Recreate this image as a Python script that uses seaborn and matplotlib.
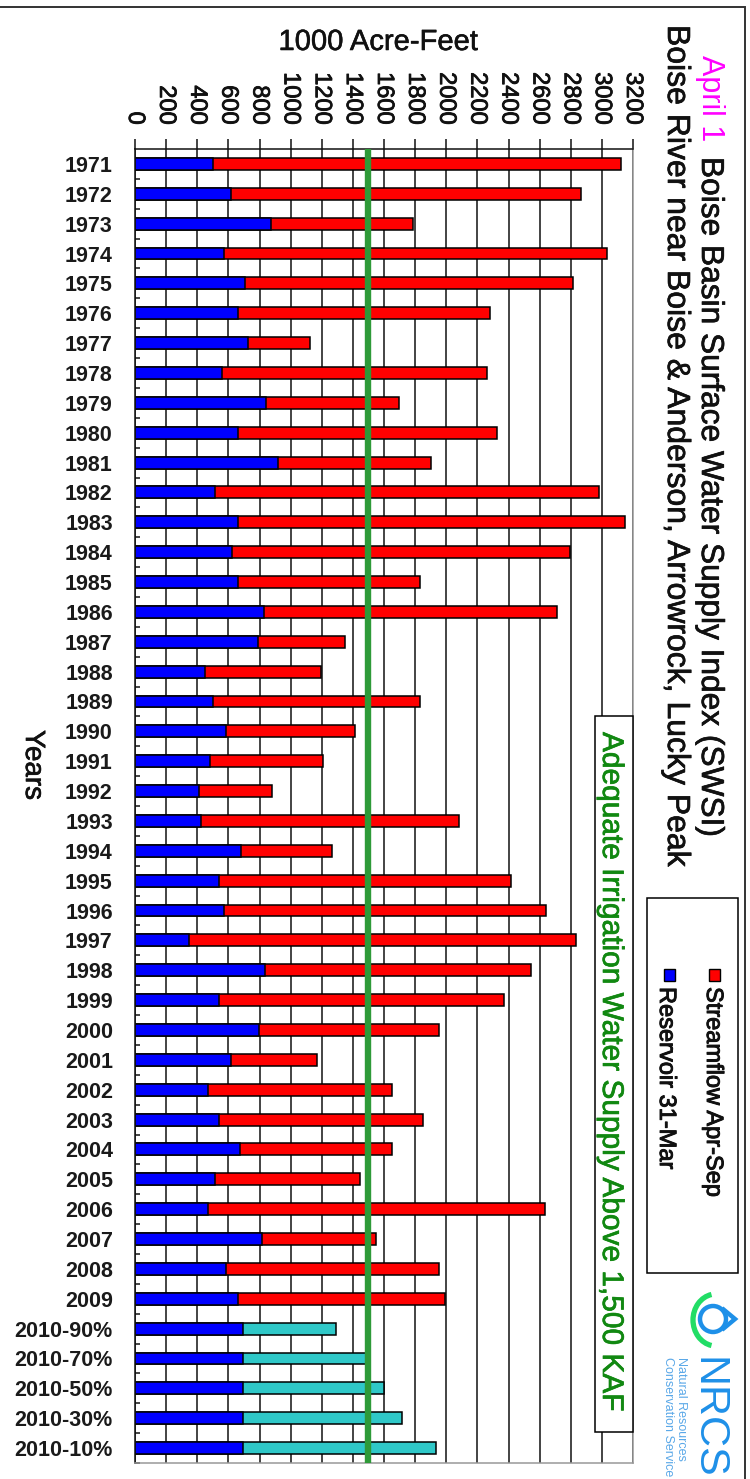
import matplotlib
matplotlib.use("Agg")
import matplotlib.pyplot as plt
import matplotlib.patheffects as pe
from matplotlib.patches import Rectangle, Arc, Polygon, Circle
from matplotlib.ticker import FixedLocator
import pandas as pd
import seaborn as sns

years = [str(y) for y in range(1971, 2010)]
forecast = ["2010-90%", "2010-70%", "2010-50%", "2010-30%", "2010-10%"]
labels = years + forecast
reservoir = [501, 617, 874, 572, 707, 662, 726, 559, 842, 662, 919, 514, 662, 623, 662, 829,
             790, 450, 501, 585, 482, 411, 424, 681, 540, 572, 347, 835, 540, 797, 617, 469,
             540, 675, 514, 469, 816, 585, 662, 694, 694, 694, 694, 694]
total = [3123, 2866, 1787, 3033, 2815, 2281, 1125, 2262, 1697, 2326, 1902, 2982, 3149, 2796,
         1832, 2712, 1350, 1195, 1832, 1414, 1208, 880, 2082, 1266, 2416, 2641, 2834, 2545,
         2371, 1954, 1170, 1652, 1851, 1652, 1446, 2635, 1549, 1954, 1992, 1292, 1485, 1600,
         1716, 1934]
kinds = ["Streamflow"] * len(years) + ["Forecast"] * len(forecast)
threshold = 1500
xticks = list(range(0, 3201, 200))

W, H = 750, 1479
sns.set_theme(style="white")
plt.rcParams["font.family"] = ["Liberation Sans", "DejaVu Sans"]
df = pd.DataFrame({"label": labels, "reservoir": reservoir, "total": total, "kind": kinds})

fig = plt.figure(figsize=(W / 100, H / 100), dpi=100, facecolor="white")
L, R, T, B = 135, 633, 149, 1463
ax = fig.add_axes([L / W, 1 - B / H, (R - L) / W, (B - T) / H])

sns.barplot(data=df, y="label", x="total", hue="kind", order=labels, dodge=False, width=0.4,
            palette={"Streamflow": "#ff0000", "Forecast": "#2fc8c8"}, saturation=1,
            edgecolor="black", linewidth=1.1, legend=False, ax=ax)
sns.barplot(data=df, y="label", x="reservoir", order=labels, width=0.4, color="#0000ff",
            saturation=1, edgecolor="black", linewidth=1.1, ax=ax)
ax.axvline(threshold, color="#2e9a38", lw=4.6, zorder=6)

ax.set_xlim(0, 3200)
ax.set_ylim(len(labels) - 0.5, -0.5)
ax.set_xlabel("")
ax.set_ylabel("")
ax.set_axisbelow(True)
ax.xaxis.tick_top()
ax.set_xticks(xticks)
ax.set_xticklabels([str(v) for v in xticks], rotation=-90, ha="center", va="bottom",
                   fontsize=17, color="#111111")
ax.grid(axis="x", color="#111111", lw=1.1)
ax.grid(axis="y", visible=False)
ax.tick_params(axis="x", length=7, width=1.1, color="#111111", pad=10.5, top=True, bottom=False)
ax.tick_params(axis="y", which="major", length=0, pad=16, labelsize=15.5, labelcolor="#1a1a1a")
for t in ax.get_yticklabels():
    t.set_fontweight("bold")
for t in ax.get_xticklabels():
    t.set_path_effects([pe.withStroke(linewidth=0.6, foreground="#111111")])
ax.yaxis.set_minor_locator(FixedLocator([i + 0.5 for i in range(len(labels))]))
ax.tick_params(axis="y", which="minor", direction="in", length=3.6, width=1.1, color="#111111", left=True)
for side, color in zip(["top", "left", "bottom", "right"], ["#111111", "#111111", "#999999", "#999999"]):
    ax.spines[side].set_visible(True)
    ax.spines[side].set_color(color)
    ax.spines[side].set_linewidth(1.1)


def P(x, y):
    return x / W, 1 - y / H


def vtext(x, y, s, size, color="#111111", weight="normal", stroke=0.5):
    fx, fy = P(x, y)
    t = fig.text(fx, fy, s, rotation=-90, rotation_mode="anchor", ha="left", va="baseline",
                 fontsize=size, color=color, fontweight=weight, zorder=9)
    if stroke:
        t.set_path_effects([pe.withStroke(linewidth=stroke, foreground=color)])
    return t


def box(x0, y0, x1, y1, fc="white", ec="black", lw=1.1, z=8):
    fx, fy = P(x0, y1)
    fig.add_artist(Rectangle((fx, fy), (x1 - x0) / W, (y1 - y0) / H, transform=fig.transFigure,
                             fc=fc, ec=ec, lw=lw, zorder=z))


# outer frame: only the top and right edges fall inside the picture
box(-3, 7, 745, 1490, fc="none", ec="#333333", lw=1.4, z=1)

fx, fy = P(378, 42)
fig.text(fx, fy, "1000 Acre-Feet", ha="center", va="center", fontsize=21, color="#111111",
         path_effects=[pe.withStroke(linewidth=0.4, foreground="#111111")])
vtext(26, 730, "Years", 20)
vtext(702, 55, "April 1", 22, color="#ff00ff", stroke=0)
vtext(702, 157, "Boise Basin Surface Water Supply Index (SWSI)", 22.8)
vtext(668, 25, "Boise River near Boise & Anderson, Arrowrock, Lucky Peak", 23)

# threshold note
box(595, 716, 633, 1432)
vtext(603, 732, "Adequate Irrigation Water Supply Above 1,500 KAF", 21.5, color="#118811")

# legend
box(647, 898, 738, 1273)
box(709, 969, 720, 981, fc="#ff0000", lw=1, z=9)
box(664, 969, 675, 981, fc="#0000ff", lw=1, z=9)
vtext(707, 987, "Streamflow Apr-Sep", 17, stroke=0.7)
vtext(660, 987, "Reservoir 31-Mar", 17, stroke=0.7)

# logo
fig.add_artist(Arc((716, H - 1320), 46, 52, theta1=100, theta2=260, color="#22dd66", lw=3.8,
                   transform=None, zorder=9))
fig.add_artist(Circle((713, H - 1319), 13, fc="none", ec="#1e90e8", lw=3.2, transform=None, zorder=9))
fig.add_artist(Polygon([(722, H - 1329.8), (735, H - 1319), (722, H - 1308.2)], closed=False, fc="none",
                       ec="#1e90e8", lw=3.2, transform=None, zorder=9))
vtext(696, 1357, "NRCS", 31, color="#1e90e8", stroke=0)
vtext(678, 1357, "Natural Resources", 9, color="#5aa8e8", stroke=0)
vtext(665, 1357, "Conservation Service", 9, color="#5aa8e8", stroke=0)

fig.savefig("out.png", dpi=100, facecolor="white")
